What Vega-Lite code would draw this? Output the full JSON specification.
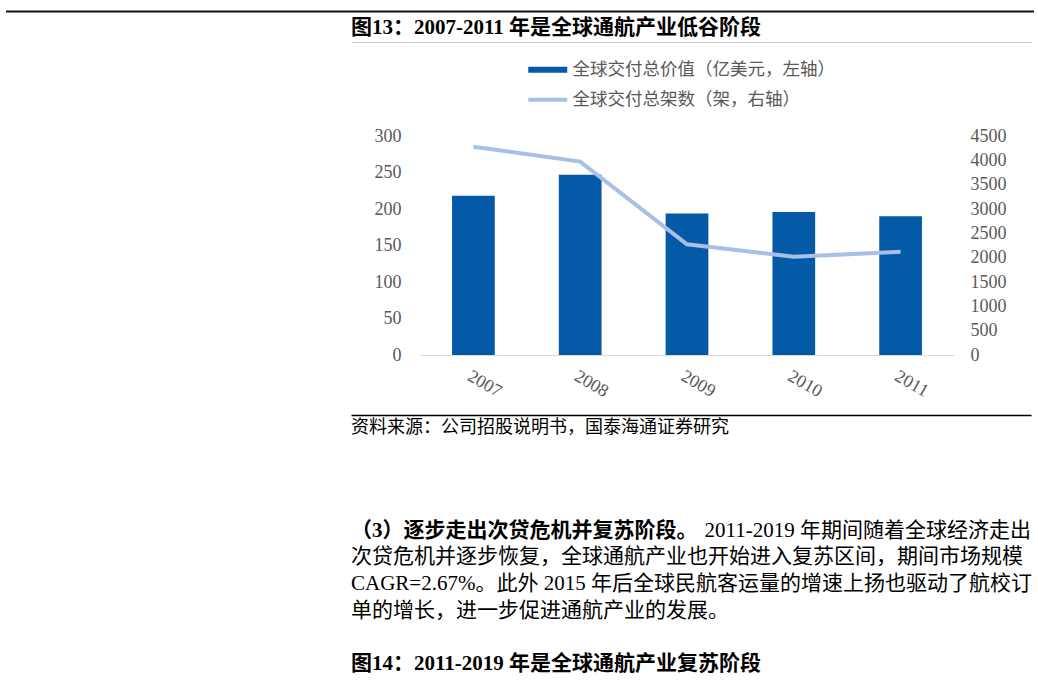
{
  "$schema": "https://vega.github.io/schema/vega-lite/v6.json",
  "padding": {"left": 5, "top": 10, "right": 0, "bottom": 0},
  "background": "white",
  "config": {
    "view": {"stroke": null},
    "font": "Liberation Serif, Noto Sans CJK SC",
    "axis": {"labelFont": "Liberation Serif", "labelFontSize": 18, "labelColor": "#595959", "grid": false, "ticks": false, "title": null},
    "legend": {"layout": {"top": {"anchor": "middle"}}}
  },
  "spacing": 0,
  "vconcat": [
    {
      "width": 1028,
      "height": 1,
      "data": {"values": [{"edge": "top"}]},
      "mark": {"type": "rule", "color": "#111111", "strokeWidth": 2},
      "encoding": {
        "x": {"datum": 0, "type": "quantitative", "scale": {"domain": [0, 1]}, "axis": null},
        "x2": {"datum": 1}
      }
    },
    {
      "spacing": 0,
      "hconcat": [
        {
          "width": 345,
          "height": 1,
          "data": {"values": []},
          "mark": "text",
          "encoding": {}
        },
        {
          "columns": 1,
          "align": "none",
          "spacing": 0,
          "resolve": {"scale": {"color": "independent"}, "legend": {"color": "independent"}},
          "concat": [
            {
              "width": 680,
              "height": 29,
              "data": {"values": [{"title": "图13：2007-2011 年是全球通航产业低谷阶段"}]},
              "mark": {"type": "text", "align": "left", "baseline": "middle", "fontSize": 21, "fontWeight": "bold", "color": "#000000"},
              "encoding": {
                "text": {"field": "title"},
                "x": {"datum": 0, "type": "quantitative", "scale": {"domain": [0, 1]},
                  "axis": {"orient": "bottom", "labels": false, "domainColor": "#c8c8c8", "domainWidth": 1, "minExtent": 0}}
              }
            },
            {
              "spacing": 0,
              "bounds": "flush",
              "resolve": {"scale": {"color": "independent"}, "legend": {"color": "independent"}},
              "hconcat": [
                {
                  "width": 69,
                  "height": 1,
                  "data": {"values": []},
                  "mark": "text",
                  "encoding": {}
                },
                {
                  "width": 534,
                  "height": 219,
                  "data": {"values": [
                    {"year": "2007", "value": 218, "units": 4280},
                    {"year": "2008", "value": 247, "units": 3975},
                    {"year": "2009", "value": 194, "units": 2275},
                    {"year": "2010", "value": 196, "units": 2020},
                    {"year": "2011", "value": 190, "units": 2120}
                  ]},
                  "encoding": {
                    "x": {"field": "year", "type": "ordinal",
                      "scale": {"paddingInner": 0.6, "paddingOuter": 0.3},
                      "axis": {"labelAngle": 30, "labelPadding": 12, "domainColor": "#d9d9d9", "domainWidth": 1, "minExtent": 60, "maxExtent": 60}}
                  },
                  "layer": [
                    {
                      "mark": {"type": "bar"},
                      "encoding": {
                        "y": {"field": "value", "type": "quantitative", "scale": {"domain": [0, 300]},
                          "axis": {"values": [0, 50, 100, 150, 200, 250, 300], "domain": false, "labelPadding": 19, "minExtent": 69}},
                        "color": {"datum": "全球交付总价值（亿美元，左轴）", "type": "nominal",
                          "scale": {"domain": ["全球交付总价值（亿美元，左轴）", "全球交付总架数（架，右轴）"], "range": ["#045AA6", "#A9BFE5"]},
                          "legend": {
                            "orient": "top", "direction": "vertical", "title": null,
                            "labelFont": "Noto Sans CJK SC", "labelFontSize": 17.5, "labelColor": "#595959", "labelLimit": 400,
                            "symbolType": "stroke", "symbolSize": 1521, "symbolStrokeWidth": 4,
                            "rowPadding": 8, "padding": 19, "offset": 8, "labelOffset": 16,
                            "encode": {"symbols": {"update": {
                              "stroke": {"scale": "color", "field": "value"},
                              "fill": {"value": "transparent"},
                              "strokeCap": {"value": "butt"},
                              "strokeWidth": {"signal": "datum.index === 0 ? 6 : 4"}
                            }}}
                          }}
                      }
                    },
                    {
                      "mark": {"type": "line", "strokeWidth": 4},
                      "encoding": {
                        "y": {"field": "units", "type": "quantitative", "scale": {"domain": [0, 4500]},
                          "axis": {"orient": "right", "format": "d", "values": [0, 500, 1000, 1500, 2000, 2500, 3000, 3500, 4000, 4500], "domain": false, "labelPadding": 16}},
                        "color": {"datum": "全球交付总架数（架，右轴）", "type": "nominal"}
                      }
                    }
                  ],
                  "resolve": {"scale": {"y": "independent"}}
                }
              ]
            },
            {
              "width": 680,
              "height": 26,
              "data": {"values": [{"src": "资料来源：公司招股说明书，国泰海通证券研究"}]},
              "mark": {"type": "text", "align": "left", "baseline": "middle", "font": "Noto Sans CJK SC", "fontSize": 18, "color": "#000000"},
              "encoding": {
                "text": {"field": "src"},
                "x": {"datum": 0, "type": "quantitative", "scale": {"domain": [0, 1]},
                  "axis": {"orient": "top", "labels": false, "domainColor": "#000000", "domainWidth": 1.5, "minExtent": 0}}
              }
            },
            {
              "width": 680,
              "height": 236,
              "data": {"values": [
                {"line": 1, "part": "head", "text": "（3）逐步走出次贷危机并复苏阶段。"},
                {"line": 1, "part": "tail", "text": "2011-2019 年期间随着全球经济走出"},
                {"line": 2, "part": "body", "text": "次贷危机并逐步恢复，全球通航产业也开始进入复苏区间，期间市场规模"},
                {"line": 3, "part": "body", "text": "CAGR=2.67%。此外 2015 年后全球民航客运量的增速上扬也驱动了航校订"},
                {"line": 4, "part": "body", "text": "单的增长，进一步促进通航产业的发展。"},
                {"line": 6, "part": "head", "text": "图14：2011-2019 年是全球通航产业复苏阶段"}
              ]},
              "encoding": {
                "y": {"field": "line", "type": "quantitative",
                  "scale": {"domain": [6.5, -2.38], "nice": false, "zero": false}, "axis": null},
                "text": {"field": "text"}
              },
              "layer": [
                {
                  "transform": [{"filter": "datum.part === 'head'"}],
                  "mark": {"type": "text", "align": "left", "baseline": "middle", "fontSize": 21, "fontWeight": "bold", "color": "#000000"},
                  "encoding": {"x": {"datum": 0, "type": "quantitative", "scale": {"domain": [0, 1]}, "axis": null}}
                },
                {
                  "transform": [{"filter": "datum.part === 'body'"}],
                  "mark": {"type": "text", "align": "left", "baseline": "middle", "fontSize": 21, "color": "#000000"},
                  "encoding": {"x": {"datum": 0, "type": "quantitative", "scale": {"domain": [0, 1]}, "axis": null}}
                },
                {
                  "transform": [{"filter": "datum.part === 'tail'"}],
                  "mark": {"type": "text", "align": "right", "baseline": "middle", "fontSize": 21, "color": "#000000"},
                  "encoding": {"x": {"datum": 1, "type": "quantitative", "scale": {"domain": [0, 1]}, "axis": null}}
                }
              ]
            }
          ]
        }
      ]
    }
  ]
}
